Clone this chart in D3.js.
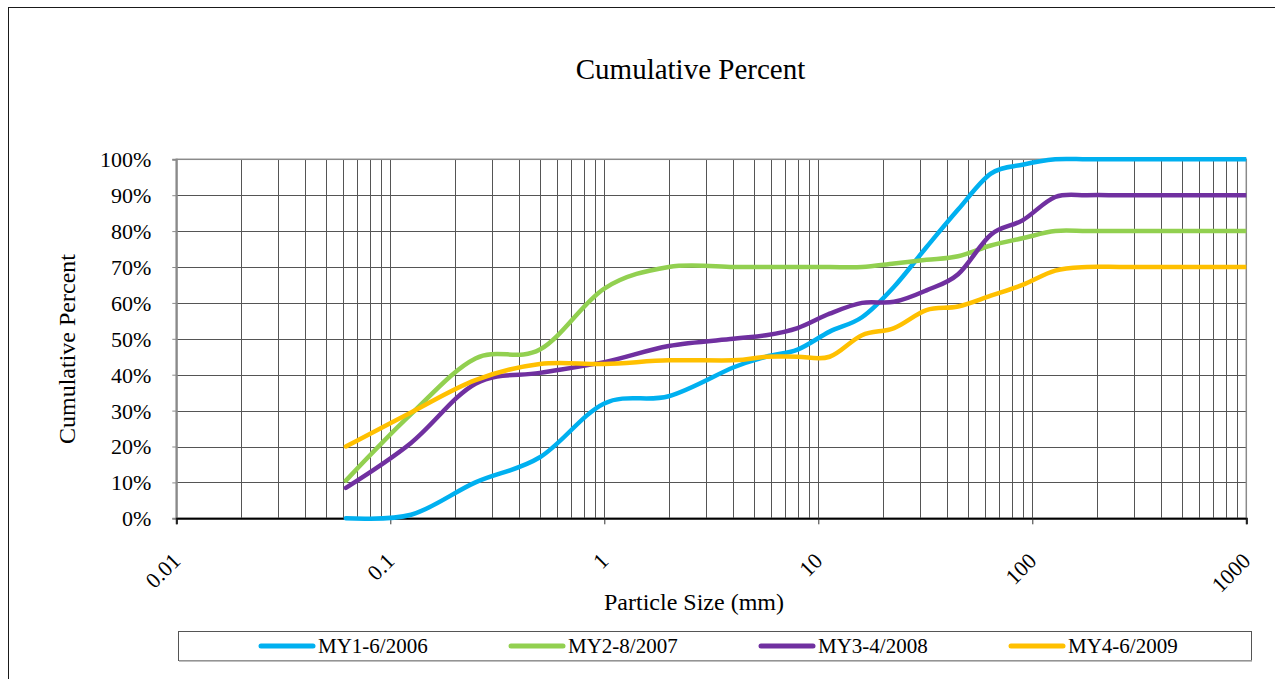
<!DOCTYPE html>
<html><head><meta charset="utf-8">
<script src="https://cdn.jsdelivr.net/npm/d3@7"></script>
<style>body{margin:0;background:#fff;overflow:hidden}svg{display:block}</style>
</head><body>
<svg id="c" width="1275" height="679"></svg>
<script>
const sizes = [0.062, 0.125, 0.25, 0.5, 1, 2, 4, 5.7, 8, 11.3, 16, 22.6, 32, 45, 64, 90, 128, 180, 256, 362, 512, 1024];
const my1 = [0, 1, 10, 17, 32, 34, 42, 45, 47, 52, 56, 64.5, 75.5, 86, 96, 98.5, 100, 100, 100, 100, 100, 100];
const my2 = [10.5, 29, 44.5, 47, 64, 70, 70, 70, 70, 70, 70, 71, 72, 73, 76, 78, 80, 80, 80, 80, 80, 80];
const my3 = [8.5, 21, 37.5, 40.5, 43.5, 48, 50, 51, 53, 57, 60, 60.3, 63.5, 68, 79, 83, 89.5, 90, 90, 90, 90, 90];
const my4 = [20, 29.5, 38.5, 43, 43, 44, 44, 45, 45, 45, 51, 53, 58, 59, 62, 65, 69, 70, 70, 70, 70, 70];
const seriesNames = ["MY1-6/2006", "MY2-8/2007", "MY3-4/2008", "MY4-6/2009"];
const seriesColors = ["#00B0F0", "#92D050", "#7030A0", "#FFC000"];
const seriesValues = [my1, my2, my3, my4];
const xTickValues = [0.01, 0.1, 1, 10, 100, 1000];
const xTickLabels = ["0.01", "0.1", "1", "10", "100", "1000"];
const yTickValues = [0, 0.1, 0.2, 0.3, 0.4, 0.5, 0.6, 0.7, 0.8, 0.9, 1];

const svg = d3.select("#c");
const font = "'Liberation Serif','Times New Roman',serif";
const L = 176.3, R = 1246.3, T = 159.3, B = 518.3;
const x = d3.scaleLog().domain([0.01, 1000]).range([L, R]);
const y = d3.scaleLinear().domain([0, 1]).range([B, T]);

// outer chart border
svg.append("rect").attr("x", 8.5).attr("y", 7.5).attr("width", 1400).attr("height", 800)
  .attr("fill", "#fff").attr("stroke", "#1a1a1a").attr("stroke-width", 1);

// title
svg.append("text").attr("x", 690.5).attr("y", 79).attr("text-anchor", "middle")
  .attr("font-family", font).attr("font-size", 29).attr("fill", "#000").text("Cumulative Percent");

const g = svg.append("g");
// vertical gridlines (log major+minor)
g.selectAll("line.vg").data(x.ticks()).join("line").attr("class", "vg")
  .attr("x1", d => Math.round(x(d)) + 0.5).attr("x2", d => Math.round(x(d)) + 0.5)
  .attr("y1", T).attr("y2", B).attr("stroke", "#555").attr("stroke-width", 1);
// horizontal gridlines
g.selectAll("line.hg").data(yTickValues).join("line").attr("class", "hg")
  .attr("x1", L).attr("x2", R)
  .attr("y1", d => Math.round(y(d)) + 0.5).attr("y2", d => Math.round(y(d)) + 0.5)
  .attr("stroke", "#555").attr("stroke-width", 1);
// plot border
g.append("rect").attr("x", L).attr("y", T).attr("width", R - L).attr("height", B - T)
  .attr("fill", "none").attr("stroke", "#8a8a8a").attr("stroke-width", 1.5);

// y axis
const yAxis = svg.append("g").attr("transform", `translate(${L},0)`)
  .call(d3.axisLeft(y).tickValues(yTickValues).tickSize(4).tickFormat(d3.format(".0%")));
yAxis.select(".domain").attr("stroke", "#8a8a8a").attr("stroke-width", 2);
yAxis.selectAll(".tick line").attr("stroke", "#8a8a8a");
yAxis.selectAll(".tick text").attr("font-family", font).attr("font-size", 22).attr("fill", "#000")
  .attr("x", -25).attr("dy", "0.34em");

// x axis
const xAxis = svg.append("g").attr("transform", `translate(0,${B})`)
  .call(d3.axisBottom(x).tickValues(xTickValues).tickSize(6).tickFormat((d, i) => xTickLabels[i]));
xAxis.select(".domain").attr("stroke", "#000").attr("stroke-width", 2);
xAxis.selectAll(".tick line").attr("stroke", "#333");
xAxis.selectAll(".tick text").attr("font-family", font).attr("font-size", 22).attr("fill", "#000")
  .attr("text-anchor", "end").attr("x", 0).attr("y", 0).attr("dy", 0)
  .attr("transform", "translate(5,44) rotate(-45)");

// axis titles
svg.append("text").attr("transform", "translate(75,349) rotate(-90)").attr("text-anchor", "middle")
  .attr("font-family", font).attr("font-size", 24).attr("fill", "#000").text("Cumulative Percent");
svg.append("text").attr("x", 694).attr("y", 610).attr("text-anchor", "middle")
  .attr("font-family", font).attr("font-size", 24).attr("fill", "#000").text("Particle Size (mm)");

// lines
svg.append("clipPath").attr("id", "clip").append("rect")
  .attr("x", L - 5).attr("y", T - 5).attr("width", R - L + 5).attr("height", B - T + 10);
const line = d3.line().x(d => x(d[0])).y(d => y(d[1] / 100)).curve(d3.curveCatmullRom.alpha(0));
const lines = svg.append("g").attr("clip-path", "url(#clip)");
seriesValues.forEach((vals, i) => {
  lines.append("path").datum(sizes.map((s, j) => [s, vals[j]]))
    .attr("d", line).attr("fill", "none").attr("stroke", seriesColors[i])
    .attr("stroke-width", 4.5).attr("stroke-linecap", "round").attr("stroke-linejoin", "round");
});

// legend
const lg = svg.append("g");
lg.append("rect").attr("x", 178.5).attr("y", 631.5).attr("width", 1073).attr("height", 29)
  .attr("fill", "#fff").attr("stroke", "#555").attr("stroke-width", 1);
lg.append("line").attr("x1", 179).attr("x2", 1252).attr("y1", 661).attr("y2", 661)
  .attr("stroke", "#aaa").attr("stroke-width", 1.5);
seriesNames.forEach((n, i) => {
  const x0 = 261 + i * 250;
  lg.append("line").attr("x1", x0).attr("x2", x0 + 52).attr("y1", 646).attr("y2", 646)
    .attr("stroke", seriesColors[i]).attr("stroke-width", 5).attr("stroke-linecap", "round");
  lg.append("text").attr("x", x0 + 57).attr("y", 653).attr("font-family", font).attr("font-size", 21)
    .attr("fill", "#000").text(n);
});
</script>
</body></html>
